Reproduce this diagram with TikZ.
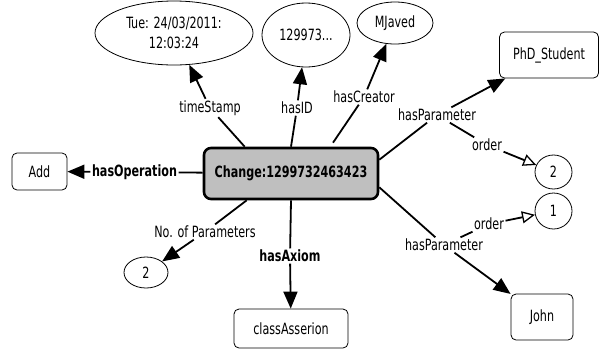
\documentclass[tikz,border=0pt]{standalone}
\usepackage{fontspec}
\setmainfont{DejaVu Sans Condensed}[FakeStretch=0.8]
\usetikzlibrary{shapes.geometric,arrows.meta}
\begin{document}
\begin{tikzpicture}[x=1pt,y=-1pt,
  font=\fontsize{15.5}{19.5}\selectfont,
  obj/.style={draw,line width=0.8pt,rounded corners=5pt,inner sep=0pt},
  lit/.style={draw,line width=0.8pt,ellipse,inner sep=0pt,align=center},
  lbl/.style={inner sep=1.5pt},
  conn/.style={line width=1.8pt},
  arr/.style={conn,-{Triangle[length=17pt,width=14pt]}},
  oarr/.style={conn,-{Triangle[open,length=13pt,width=12pt,line width=1.3pt]}}]
\useasboundingbox (0,0) rectangle (601,354);
% nodes
\node[draw,line width=2.6pt,rounded corners=7pt,fill=black!25,minimum width=174pt,minimum height=51pt,inner sep=0pt,font=\fontsize{15.5}{19}\selectfont\bfseries] (c) at (291,173.5) {Change:1299732463423};
\node[lit,minimum width=158pt,minimum height=64pt] (ts) at (174,33) {Tue: 24/03/2011:\\12:03:24};
\node[lit,minimum width=88pt,minimum height=64pt] (id) at (306,35) {129973...};
\node[lit,minimum width=76pt,minimum height=42pt] (cr) at (395,23) {MJaved};
\node[obj,minimum width=99pt,minimum height=46pt] (phd) at (549,55) {PhD\_Student};
\node[obj,minimum width=55pt,minimum height=37pt] (add) at (39.5,171.5) {Add};
\node[lit,minimum width=44pt,minimum height=31pt] (n2) at (146,272.5) {2};
\node[obj,minimum width=114pt,minimum height=39pt] (ca) at (291,328.5) {classAsserion};
\node[obj,minimum width=62pt,minimum height=46pt] (john) at (542,317) {John};
\node[lit,minimum width=37pt,minimum height=36pt] (one) at (553.5,211) {1};
\node[lit,minimum width=37pt,minimum height=34pt] (two) at (553.5,172) {2};
% labels
\node[lbl] (lts) at (210,108) {timeStamp};
\node[lbl] (lid) at (297,108) {hasID};
\node[lbl] (lcr) at (364,97) {hasCreator};
\node[lbl] (lhp1) at (437,115) {hasParameter};
\node[lbl] (lo1) at (487,145) {order};
\node[lbl] (lhp2) at (444,245) {hasParameter};
\node[lbl] (lo2) at (489,224) {order};
\node[lbl,font=\fontsize{15.5}{19}\selectfont\bfseries] (lop) at (134.5,172) {hasOperation};
\node[lbl] (lnp) at (205,232) {No. of Parameters};
\node[lbl,font=\fontsize{15.5}{19}\selectfont\bfseries] (lax) at (290,256) {hasAxiom};
% connectors
\draw[conn] (c.north west) ++(42,0) coordinate (c1) -- (lts);
\draw[arr] (lts) -- (ts);
\draw[conn] (c.north) -- (lid);
\draw[arr] (lid) -- (id);
\draw[conn] (c.north) ++(42,-4) coordinate (c2) -- (lcr);
\draw[arr] (lcr) -- (cr);
\draw[conn] (c.north east) ++(0,13) coordinate (c3) -- (lhp1);
\draw[arr] (lhp1) -- (phd);
\draw[conn] (lhp1) -- (lo1);
\draw[oarr] (lo1) -- (two);
\draw[conn] (c.south east) ++(0,-13) coordinate (c4) -- (lhp2);
\draw[arr] (lhp2) -- (john);
\draw[conn] (lhp2) -- (lo2);
\draw[oarr] (lo2) -- (one);
\draw[conn] (c) -- (lop);
\draw[arr] (lop) -- (add);
\draw[conn] (c.south west) ++(44,0) coordinate (c5) -- (lnp);
\draw[arr] (lnp) -- (n2);
\draw[conn] (c.south) -- (lax);
\draw[arr] (lax) -- (ca);
\end{tikzpicture}
\end{document}
